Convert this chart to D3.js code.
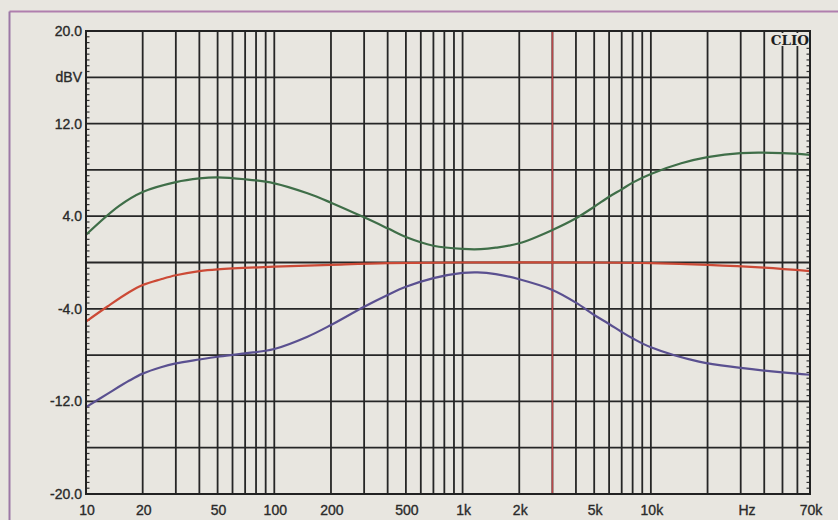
<!DOCTYPE html>
<html>
<head>
<meta charset="utf-8">
<script src="https://cdn.jsdelivr.net/npm/d3@7"></script>
<style>
  html, body { margin: 0; padding: 0; background: #e8e6e0; }
  svg { display: block; }
</style>
</head>
<body>
<svg id="chart" width="838" height="520"></svg>
<script>
// ---- data ----
const greenFreq = [10, 15, 20, 30, 40, 50, 70, 100, 150, 200, 300, 400, 500, 700, 1000, 1250, 1500, 2000, 3000, 4000, 5000, 6000, 7000, 8000, 10000, 14500, 20000, 30000, 50000, 70000];
const greenDb   = [2.4, 4.9, 6.1, 6.95, 7.27, 7.36, 7.19, 6.84, 5.98, 5.17, 3.9, 2.95, 2.2, 1.45, 1.17, 1.15, 1.28, 1.66, 2.81, 3.82, 4.82, 5.68, 6.32, 6.9, 7.65, 8.57, 9.1, 9.45, 9.45, 9.3];

const redFreq = [10, 13, 17, 20, 25, 30, 40, 50, 100, 200, 400, 1000, 5000, 10000, 20000, 40000, 70000];
const redDb   = [-5.1, -3.8, -2.55, -1.95, -1.45, -1.1, -0.75, -0.6, -0.36, -0.2, -0.06, 0, 0, -0.05, -0.2, -0.45, -0.75];

const blueFreq = [10, 13, 17, 20, 25, 30, 40, 50, 70, 100, 150, 200, 300, 400, 500, 700, 1000, 1200, 1500, 2000, 3000, 4000, 5000, 6000, 7000, 8000, 10000, 18000, 30000, 50000, 70000];
const blueDb   = [-12.5, -11.35, -10.2, -9.6, -9.05, -8.72, -8.38, -8.14, -7.85, -7.47, -6.41, -5.4, -3.82, -2.8, -2.1, -1.35, -0.9, -0.85, -1.0, -1.45, -2.37, -3.47, -4.54, -5.31, -6.0, -6.55, -7.33, -8.57, -9.1, -9.5, -9.7];

const markerFreq = [3000];

const yTickValues = [20, 16, 12, 8, 4, 0, -4, -8, -12, -16, -20];
const yTickLabels = ["20.0", "dBV", "12.0", "", "4.0", "", "-4.0", "", "-12.0", "", "-20.0"];

const xTickValues = [10, 20, 50, 100, 200, 500, 1000, 2000, 5000, 10000, 32000, 70000];
const xTickLabels = ["10", "20", "50", "100", "200", "500", "1k", "2k", "5k", "10k", "Hz", "70k"];

const xDomain = [10, 70000];
const yDomain = [-20, 20];

// ---- layout ----
const svg = d3.select("#chart");
const L = 86, R = 810, T = 31, B = 494;
const x = d3.scaleLog().domain(xDomain).range([L, R]);
const y = d3.scaleLinear().domain(yDomain).range([B, T]);

const bg = "#e8e6e0";
const gridColor = "#262626";

svg.append("rect").attr("width", 838).attr("height", 520).attr("fill", bg);

// outer page frame (pink/purple)
svg.append("line").attr("x1", 9.5).attr("x2", 838).attr("y1", 11.5).attr("y2", 11.5)
  .attr("stroke", "#b07fae").attr("stroke-width", 2);
svg.append("line").attr("x1", 9.5).attr("x2", 9.5).attr("y1", 11.5).attr("y2", 520)
  .attr("stroke", "#9c78a6").attr("stroke-width", 2);

// vertical grid lines (log decades 1..9)
const vGrid = [];
for (let dec = 10; dec <= 10000; dec *= 10) {
  for (let m = 1; m <= 9; m++) {
    const f = dec * m;
    if (f > 10 && f < 70000) vGrid.push(f);
  }
}
svg.append("g").selectAll("line").data(vGrid).join("line")
  .attr("x1", d => x(d)).attr("x2", d => x(d))
  .attr("y1", T).attr("y2", B)
  .attr("stroke", gridColor).attr("stroke-width", 1.8);

// horizontal grid lines
svg.append("g").selectAll("line").data(yTickValues.filter(v => v > -20 && v < 20)).join("line")
  .attr("x1", L).attr("x2", R)
  .attr("y1", d => y(d)).attr("y2", d => y(d))
  .attr("stroke", gridColor).attr("stroke-width", 1.8);

// minor ticks on left and right axes (every 0.5 dB, inward)
const minor = d3.range(-20, 20.01, 0.5).filter(v => v % 4 !== 0);
svg.append("g").selectAll("line").data(minor).join("line")
  .attr("x1", L).attr("x2", L + 3.5)
  .attr("y1", d => y(d)).attr("y2", d => y(d))
  .attr("stroke", "#333").attr("stroke-width", 1.2);
svg.append("g").selectAll("line").data(minor).join("line")
  .attr("x1", R).attr("x2", R - 3.5)
  .attr("y1", d => y(d)).attr("y2", d => y(d))
  .attr("stroke", "#333").attr("stroke-width", 1.2);

// red marker line
svg.append("g").selectAll("line").data(markerFreq).join("line")
  .attr("x1", d => x(d)).attr("x2", d => x(d))
  .attr("y1", T).attr("y2", B)
  .attr("stroke", "#b8484a").attr("stroke-width", 1.5);

// curves
const line = d3.line()
  .x(d => x(d[0])).y(d => y(d[1]))
  .curve(d3.curveCatmullRom.alpha(0.5));

function drawCurve(freqs, vals, color) {
  svg.append("path")
    .datum(freqs.map((f, i) => [f, vals[i]]))
    .attr("d", line)
    .attr("fill", "none")
    .attr("stroke", color)
    .attr("stroke-width", 2.2)
    .attr("stroke-linejoin", "round");
}
drawCurve(redFreq, redDb, "#cc4a36");
drawCurve(greenFreq, greenDb, "#3f6e48");
drawCurve(blueFreq, blueDb, "#5a5090");

// plot frame
svg.append("rect").attr("x", L).attr("y", T).attr("width", R - L).attr("height", B - T)
  .attr("fill", "none").attr("stroke", "#222").attr("stroke-width", 2);

// CLIO logo
svg.append("rect").attr("x", 766).attr("y", 33).attr("width", 43).attr("height", 13).attr("fill", bg);
svg.append("text").attr("x", 809).attr("y", 45).attr("text-anchor", "end")
  .attr("font-family", "DejaVu Serif").attr("font-weight", "bold").attr("font-size", 13.5)
  .attr("fill", "#1e1e1e").text("CLIO");

// y labels
const txtStyle = sel => sel.attr("font-family", "Liberation Sans, Arial, sans-serif")
  .attr("font-size", 14).attr("fill", "#2a2a2a").attr("stroke", "#2a2a2a").attr("stroke-width", 0.35);

svg.append("g").selectAll("text").data(yTickValues).join("text")
  .attr("x", L - 4).attr("y", d => y(d)).attr("dy", "0.36em")
  .attr("text-anchor", "end")
  .call(txtStyle)
  .text((d, i) => yTickLabels[i]);

// x labels
svg.append("g").selectAll("text").data(xTickValues).join("text")
  .attr("x", d => x(d) + 1).attr("y", 515)
  .attr("text-anchor", "middle")
  .call(txtStyle)
  .text((d, i) => xTickLabels[i]);
</script>
</body>
</html>
